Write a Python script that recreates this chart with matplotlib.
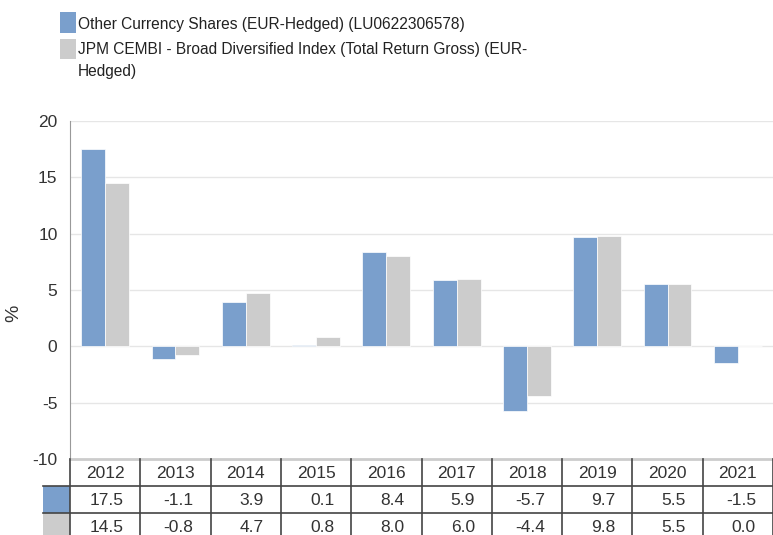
import matplotlib
matplotlib.use("Agg")
import matplotlib.pyplot as plt
import numpy as np

plt.rcParams['font.family'] = ['Liberation Sans', 'DejaVu Sans']
plt.rcParams['axes.unicode_minus'] = False

# data
years = ["2012", "2013", "2014", "2015", "2016", "2017", "2018", "2019", "2020", "2021"]
fund = [17.5, -1.1, 3.9, 0.1, 8.4, 5.9, -5.7, 9.7, 5.5, -1.5]
index = [14.5, -0.8, 4.7, 0.8, 8.0, 6.0, -4.4, 9.8, 5.5, 0.0]
fund_name = ["Other Currency Shares (EUR-Hedged) (LU0622306578)"]
index_name = ["JPM CEMBI - Broad Diversified Index (Total Return Gross) (EUR-", "Hedged)"]

blue = "#7a9fcc"
grey = "#cccccc"
txt = "#333333"

W, H = 773, 535
fig = plt.figure(figsize=(W / 100, H / 100), dpi=100)

# main chart area (pixel based placement)
left, right, top, bottom = 70, 773, 121, 459
ax = fig.add_axes([left / W, 1 - bottom / H, (right - left) / W, (bottom - top) / H])

x = np.arange(len(years))
bw = 0.34
b1 = ax.bar(x - bw / 2, fund, bw, color=blue, edgecolor="white", linewidth=0.5, zorder=3)
b2 = ax.bar(x + bw / 2, index, bw, color=grey, edgecolor="white", linewidth=0.5, zorder=3)

ax.set_xlim(-0.5, len(years) - 0.5)
ax.set_ylim(-10, 20)
ax.set_yticks(range(-10, 21, 5))
ax.set_xticks([])
ax.yaxis.grid(True, color="#e6e6e6", linewidth=1)
ax.set_axisbelow(True)
for s in ["top", "right", "bottom"]:
    ax.spines[s].set_visible(False)
ax.spines["left"].set_color("#999999")
ax.tick_params(axis="y", length=0, labelsize=12.5, labelcolor=txt, pad=9)
ax.set_ylabel("%", fontsize=14, color=txt)
ax.yaxis.set_label_coords(-0.068, 0.43)

# table below the chart
tab = fig.add_axes([left / W, 0, (right - left) / W, (H - bottom) / H])
tab.set_xlim(-0.5, len(years) - 0.5)
tab.set_ylim(H - bottom, 0)  # pixel rows, top = 0
tab.axis("off")
row_h = 27
n = len(years)
lc = "#444444"
colw = (right - left) / n
# swatch cells
sw_left = -0.5 - (left - 43) / colw
for r, col in enumerate([blue, grey]):
    tab.add_patch(plt.Rectangle((sw_left, row_h * (r + 1)), -0.5 - sw_left, row_h,
                                facecolor=col, edgecolor="none", clip_on=False))
# header and value text
for i, y in enumerate(years):
    tab.text(i, row_h / 2 + 1, y, ha="center", va="center", fontsize=12.5, color=txt)
    for r, vals in enumerate([fund, index]):
        tab.text(i + 0.5 - 17 / colw, row_h * (r + 1.5) + 1, f"{vals[i]:.1f}", ha="right",
                 va="center", fontsize=12.5, color=txt)
# lines
tab.plot([-0.5, n - 0.5], [0, 0], color="#cccccc", lw=2, clip_on=False)
for k in range(1, 3):
    tab.plot([sw_left, n - 0.5], [row_h * k, row_h * k], color=lc, lw=1.2, clip_on=False)
for i in range(n + 1):
    tab.plot([i - 0.5, i - 0.5], [0, H], color=lc, lw=1.2, clip_on=False)

# legend drawn in figure pixels
def px(xp, yp):
    return xp / W, 1 - yp / H

entries = [((12, 33), blue, fund_name, [29]), ((39, 59), grey, index_name, [54, 76])]
for (y0, y1), col, lines, bases in entries:
    fig.patches.append(plt.Rectangle(px(60, y1), 16 / W, (y1 - y0) / H, facecolor=col,
                                     edgecolor="none", transform=fig.transFigure))
    for line, yb in zip(lines, bases):
        fig.text(*px(78, yb), line, ha="left", va="baseline", fontsize=11.2,
                 color="#222222")

fig.savefig("out.png", dpi=100)
